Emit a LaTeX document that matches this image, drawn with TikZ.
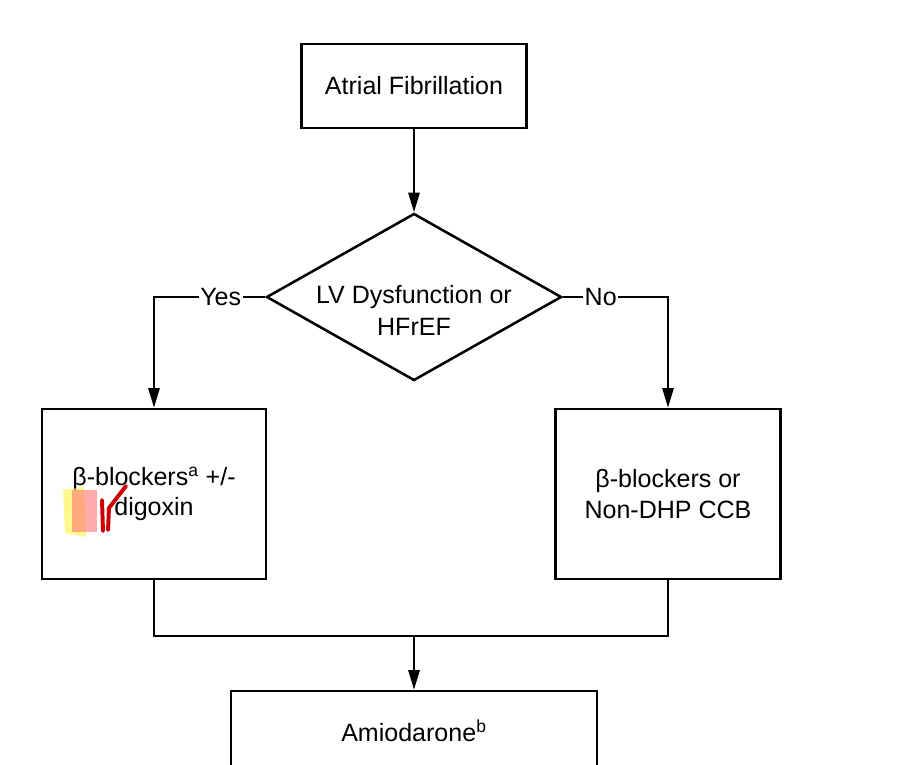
\documentclass[tikz,border=0pt]{standalone}
\usepackage{fontspec}
\setmainfont{Liberation Sans}
\usepackage{tikz}
\usetikzlibrary{arrows.meta,shapes.geometric}

\begin{document}
\begin{tikzpicture}[x=0.025cm,y=-0.025cm,
	box/.style={draw,line width=1.8pt,align=center,font=\fontsize{17.8}{21.5}\selectfont},
	decision/.style={box,shape=diamond,aspect=1.77,inner sep=0pt,minimum width=7.375cm,minimum height=4.175cm},
	conn/.style={line width=1.6pt},
	arr/.style={conn,-{Triangle[width=8pt,length=14pt]}},
	lbl/.style={fill=white,inner sep=1pt,font=\fontsize{17.8}{21.5}\selectfont}]
	\clip (0,0) rectangle (898,764);
	\useasboundingbox (0,0) rectangle (898,764);
	% boxes
	\node (af) at (414,86)[box,minimum width=5.625cm,minimum height=2.1cm]{Atrial Fibrillation};
	\node (lvd) at (414,297)[decision]{\raisebox{-16pt}[0pt][0pt]{\begin{tabular}{@{}c@{}}LV Dysfunction or\\[1pt]HFrEF\end{tabular}}};
	\node (bbdig) at (154,494)[box,minimum width=5.6cm,minimum height=4.25cm]{β-blockers\textsuperscript{a} +/-\\digoxin};
	\node (bbccb) at (668,494)[box,minimum width=5.625cm,minimum height=4.25cm]{β-blockers or\\Non-DHP CCB};
	\node (amio) at (414,731)[box,minimum width=9.15cm,minimum height=2.0cm]{Amiodarone\textsuperscript{b}};
	\coordinate (join) at (414,636);
	% connectors
	\draw[arr] (af) -- (lvd);
	\draw[arr] (lvd.west) -| node[lbl,pos=0.2]{Yes} (bbdig.north);
	\draw[arr] (lvd.east) -| node[lbl,pos=0.18]{No} (bbccb.north);
	\draw[conn] (bbdig.south) |- (join) -| (bbccb.south);
	\draw[arr] (join) -- (amio);
	% highlighter marks
	\fill[yellow!75,opacity=0.6] (63,490) -- (84,487) -- (86,537) -- (65,533) -- cycle;
	\fill[red!55,opacity=0.6] (72,490) rectangle (97,532);
	\draw[red!80!black,line width=2.8pt,line cap=round] (102,500) -- (103,531);
	\draw[red!80!black,line width=2.8pt,line cap=round,line join=round] (108,530) -- (109,508) -- (126,486);
\end{tikzpicture}
\end{document}
